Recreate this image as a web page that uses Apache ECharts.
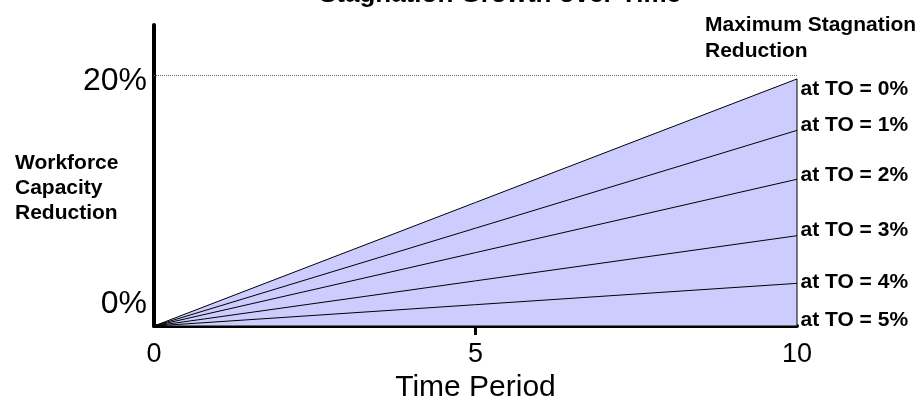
<!DOCTYPE html>
<html>
<head>
<meta charset="utf-8">
<script src="https://cdn.jsdelivr.net/npm/echarts@6/dist/echarts.min.js"></script>
<style>
  html, body { margin: 0; padding: 0; background: #fff; }
  #chart { width: 922px; height: 413px; }
</style>
</head>
<body>
<div id="chart"></div>
<script>
// data
const timeSpan = [0, 10];                        // time period of each line end
const turnoverRates = ['0%', '1%', '2%', '3%', '4%', '5%'];
const reductionAtEnd = [19.7, 15.6, 11.7, 7.2, 3.4, 0]; // % at period 10
const yLabelValues = [0, 20];
const xTickValues = [5];
const maxLineValue = 20;

// label nudges (px) so the texts sit where the drawing had them
const labelDy = [10, -5, -4, -5, -1, -6];

const FONT = 'Liberation Sans, Arial, sans-serif';

const chart = echarts.init(document.getElementById('chart'));

const series = turnoverRates.map((rate, i) => {
    const endPoint = {
        value: [timeSpan[1], reductionAtEnd[i]],
        label: {
            show: true,
            position: 'right',
            distance: 3,
            offset: [0, labelDy[i]],
            formatter: 'at TO = ' + rate,
            color: '#000',
            fontFamily: FONT,
            fontWeight: 'bold',
            fontSize: 21
        }
    };
    const data = [[timeSpan[0], 0], endPoint];
    const s = {
        name: 'at TO = ' + rate,
        type: 'line',
        data: data,
        showSymbol: true,
        symbol: 'circle',
        symbolSize: 1,
        itemStyle: { color: 'rgba(0,0,0,0)', borderWidth: 0 },
        label: { show: false },
        lineStyle: { color: '#000', width: 1 },
        clip: false,
        z: 3 + i,
        animation: false
    };
    if (i === 0) {
        // outline of the shaded wedge goes back down the right edge
        data.push([timeSpan[1], 0]);
        s.areaStyle = { color: '#ccccff', opacity: 1 };
        s.z = 2;
        s.markLine = {
            silent: true,
            symbol: 'none',
            label: { show: false },
            lineStyle: { color: '#666', type: 'dotted', width: 1 },
            data: [{ yAxis: maxLineValue }]
        };
    }
    return s;
});

const option = {
    backgroundColor: '#fff',
    animation: false,
    title: [
        {
            text: 'Stagnation Growth over Time',
            left: 495,
            top: -23,
            textAlign: 'center',
            textStyle: { fontFamily: FONT, fontWeight: 'bold', fontSize: 26, color: '#000' }
        },
        {
            text: 'Maximum Stagnation\nReduction',
            left: 700,
            top: 7,
            textStyle: { fontFamily: FONT, fontWeight: 'bold', fontSize: 21, lineHeight: 26, color: '#000' }
        },
        {
            text: 'Workforce\nCapacity\nReduction',
            left: 10,
            top: 146,
            textStyle: { fontFamily: FONT, fontWeight: 'bold', fontSize: 21, lineHeight: 25, color: '#000' }
        }
    ],
    grid: {
        left: 154,
        right: 125,
        top: 25,
        bottom: 87,
        containLabel: false
    },
    xAxis: {
        type: 'value',
        min: 0,
        max: 10,
        interval: 5,
        name: 'Time Period',
        nameLocation: 'middle',
        nameGap: 42,
        nameTextStyle: { fontFamily: FONT, fontSize: 30, color: '#000' },
        axisLine: { show: true, onZero: false, lineStyle: { color: '#000', width: 4 } },
        axisTick: { show: true, customValues: xTickValues, length: 9, lineStyle: { color: '#000', width: 3 } },
        axisLabel: {
            margin: 15,
            fontFamily: FONT,
            fontSize: 27,
            color: '#000'
        },
        splitLine: { show: false }
    },
    yAxis: {
        type: 'value',
        min: 0,
        max: 24,
        interval: 20,
        axisLine: { show: true, onZero: false, lineStyle: { color: '#000', width: 4 } },
        axisTick: { show: false },
        axisLabel: {
            margin: 7,
            formatter: v => {
                if (v === yLabelValues[0]) return '{bot|' + v + '%}';
                if (v === yLabelValues[1]) return '{top|' + v + '%}';
                return '';
            },
            rich: {
                top: { fontFamily: FONT, fontSize: 32, color: '#000', padding: [12, 0, 0, 0] },
                bot: { fontFamily: FONT, fontSize: 32, color: '#000', padding: [0, 0, 44, 0] }
            }
        },
        splitLine: { show: false }
    },
    series: series
};

chart.setOption(option);
</script>
</body>
</html>
